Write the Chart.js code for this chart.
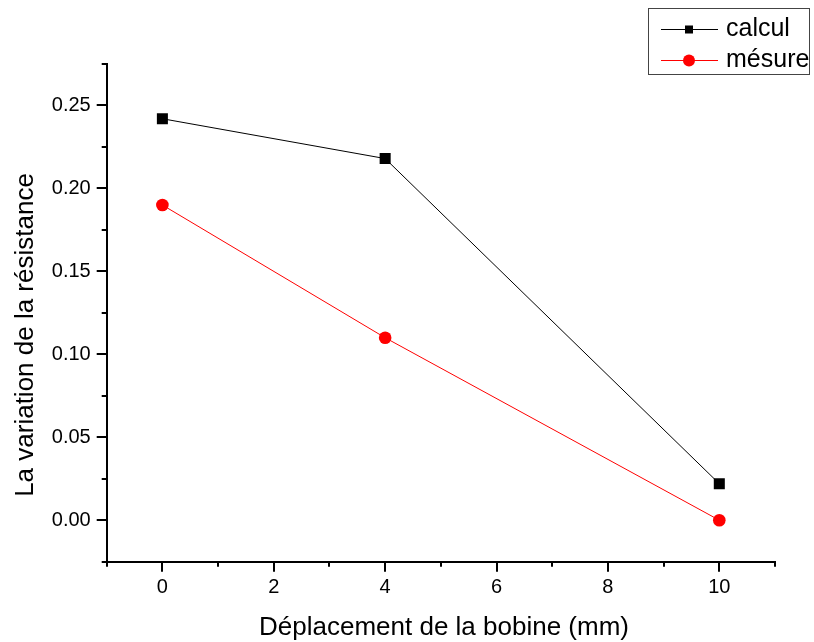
<!DOCTYPE html>
<html>
<head>
<meta charset="utf-8">
<script src="https://cdn.jsdelivr.net/npm/chart.js@4"></script>
<style>
  html, body { margin: 0; padding: 0; background: #fff; }
  #wrap { position: relative; width: 814px; height: 642px; }
</style>
</head>
<body>
<div id="wrap"><canvas id="c"></canvas></div>
<script>
// ---- data ----
const xValues = [0, 4, 10];
const calcul = [0.242, 0.218, 0.022];
const mesure = [0.19, 0.11, 0.0];
const seriesNames = ['calcul', 'mésure'];
const xTickLabels = [0, 2, 4, 6, 8, 10];
const yTickLabels = [0.00, 0.05, 0.10, 0.15, 0.20, 0.25];
const xTitle = 'Déplacement de la bobine (mm)';
const yTitle = 'La variation de la résistance';

const FONT = '"Liberation Sans", Arial, sans-serif';

const decorPlugin = {
  id: 'decor',
  afterDraw(chart) {
    const ctx = chart.ctx;
    const xs = chart.scales.x, ys = chart.scales.y;
    const ca = chart.chartArea;
    ctx.save();
    ctx.strokeStyle = '#000';
    ctx.lineWidth = 2;
    // x ticks (major even, minor odd), outward
    for (let v = xs.min; v <= xs.max + 1e-9; v += 1) {
      const px = Math.round(xs.getPixelForValue(v));
      const major = xTickLabels.includes(v);
      const len = major ? 10 : 5;
      ctx.beginPath();
      ctx.moveTo(px, ca.bottom);
      ctx.lineTo(px, ca.bottom + len);
      ctx.stroke();
    }
    // y ticks
    for (let i = 0; ; i++) {
      const v = ys.min + i * 0.025;
      if (v > ys.max + 1e-9) break;
      const py = Math.round(ys.getPixelForValue(v));
      const major = yTickLabels.some(t => Math.abs(t - v) < 1e-9);
      const len = major ? 10 : 5;
      ctx.beginPath();
      ctx.moveTo(ca.left, py);
      ctx.lineTo(ca.left - len, py);
      ctx.stroke();
    }
    // axis titles
    ctx.fillStyle = '#000';
    ctx.font = '26px ' + FONT;
    ctx.textAlign = 'center';
    ctx.textBaseline = 'alphabetic';
    ctx.fillText(xTitle, 444, 635);
    ctx.save();
    ctx.translate(33, 335);
    ctx.rotate(-Math.PI / 2);
    ctx.fillText(yTitle, 0, 0);
    ctx.restore();

    // legend
    ctx.lineWidth = 1;
    ctx.strokeStyle = '#444';
    ctx.strokeRect(648.5, 8.5, 161, 66);
    const rows = [
      { y: 29, ds: chart.data.datasets[0], baseline: 36 },
      { y: 60, ds: chart.data.datasets[1], baseline: 67 }
    ];
    rows.forEach((r, i) => {
      ctx.strokeStyle = r.ds.borderColor;
      ctx.lineWidth = 1;
      ctx.beginPath();
      ctx.moveTo(661, r.y + 0.5);
      ctx.lineTo(718, r.y + 0.5);
      ctx.stroke();
      ctx.fillStyle = r.ds.pointBackgroundColor;
      if (i === 0) {
        ctx.fillRect(685, r.y - 3.5, 8, 8);
      } else {
        ctx.beginPath();
        ctx.arc(689, r.y + 0.5, 6, 0, Math.PI * 2);
        ctx.fill();
      }
      ctx.fillStyle = '#000';
      ctx.textAlign = 'left';
      ctx.font = '25px ' + FONT;
      ctx.fillText(seriesNames[i], 726, r.baseline);
    });
    ctx.restore();
  }
};

new Chart(document.getElementById('c'), {
  type: 'scatter',
  data: {
    datasets: [
      {
        label: seriesNames[0],
        data: xValues.map((x, i) => ({ x, y: calcul[i] })),
        showLine: true,
        borderColor: '#000',
        borderWidth: 1,
        pointStyle: 'rect',
        pointRadius: 7.8,
        pointBorderWidth: 0,
        pointBackgroundColor: '#000',
        pointBorderColor: '#000'
      },
      {
        label: seriesNames[1],
        data: xValues.map((x, i) => ({ x, y: mesure[i] })),
        showLine: true,
        borderColor: '#ff0000',
        borderWidth: 1,
        pointStyle: 'circle',
        pointRadius: 6.3,
        pointBorderWidth: 0,
        pointBackgroundColor: '#ff0000',
        pointBorderColor: '#ff0000'
      }
    ]
  },
  options: {
    responsive: true,
    maintainAspectRatio: false,
    animation: false,
    layout: { padding: { left: 0, right: 39, top: 64, bottom: 0 } },
    plugins: { legend: { display: false }, tooltip: { enabled: false } },
    scales: {
      x: {
        type: 'linear',
        min: -1, max: 11,
        afterBuildTicks(scale) { scale.ticks = xTickLabels.map(v => ({ value: v })); },
        afterFit(scale) { scale.height = 80.3; },
        grid: { drawOnChartArea: false, drawTicks: false },
        border: { display: true, color: '#000', width: 2 },
        ticks: {
          color: '#000', padding: 14, maxRotation: 0, autoSkip: false,
          font: { family: FONT, size: 20 },
          callback: v => String(v)
        }
      },
      y: {
        type: 'linear',
        min: -0.025, max: 0.275,
        afterBuildTicks(scale) { scale.ticks = yTickLabels.map(v => ({ value: v })); },
        afterFit(scale) { scale.width = 106.7; },
        grid: { drawOnChartArea: false, drawTicks: false },
        border: { display: true, color: '#000', width: 2 },
        ticks: {
          color: '#000', padding: 16, autoSkip: false,
          font: { family: FONT, size: 20 },
          callback: v => Number(v).toFixed(2)
        }
      }
    }
  },
  plugins: [decorPlugin]
});
</script>
</body>
</html>
